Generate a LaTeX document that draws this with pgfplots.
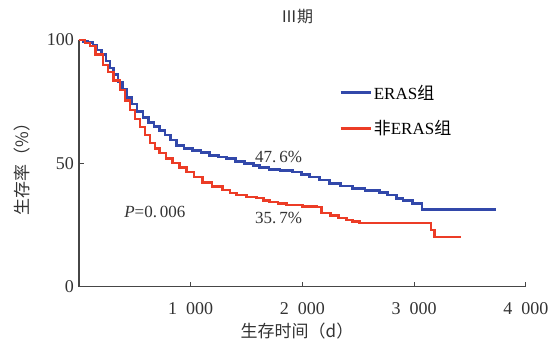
\documentclass[border=0pt]{standalone}
\usepackage{pgfplots}
\pgfplotsset{compat=1.18}
\usepackage{fontspec}
\setmainfont{Liberation Serif}
\newfontfamily\cjk{Noto Sans CJK SC}
\definecolor{erasblue}{RGB}{50,72,170}
\definecolor{erasred}{RGB}{236,60,38}
\definecolor{axgray}{RGB}{70,70,70}

\begin{document}
\begin{tikzpicture}
\useasboundingbox (0pt,0pt) rectangle (555pt,344pt);
\begin{axis}[
  at={(79pt,57.4pt)}, anchor=south west,
  scale only axis, width=447pt, height=246.6pt,
  xmin=0, xmax=4000, ymin=0, ymax=100,
  axis lines=left,
  axis line style={-, line width=1.2pt, color=axgray},
  tick style={line width=1pt, color=axgray},
  tick align=inside, major tick length=5pt,
  xtick={1000,2000,3000,4000},
  xticklabels={1\enspace000,2\enspace000,3\enspace000,4\enspace000},
  ytick={0,50,100},
  /pgf/number format/assume math mode=true,
  ticklabel style={font=\fontsize{18}{20}\selectfont, text=black!80, inner sep=2pt},
  xticklabel style={yshift=-14pt},
  yticklabel style={xshift=-3pt},
  legend style={draw=none, fill=none, at={(axis cs:2300,83.5)}, anchor=north west,
    font=\fontsize{17}{19}\selectfont, row sep=16pt},
  legend cell align=left,
  legend image code/.code={\draw[#1, line width=2.6pt] (0pt,0pt) -- (30pt,0pt);},
]
\addplot[const plot, color=erasblue, line width=2.6pt] coordinates {
(0,100) (40,99.5) (80,99) (125,98) (160,96) (200,94) (240,91.5) (277,88.7)
(310,86) (350,83) (390,80) (429,76.6) (470,74) (520,71) (571,68.5) (620,66.5)
(670,65) (723,63.3) (770,61.5) (820,59.5) (875,57.3) (940,56) (1018,55.2)
(1090,54.3) (1170,53.2) (1250,52.6) (1321,52.0) (1400,50.8) (1480,49.8)
(1560,49.0) (1616,48.4) (1700,47.6) (1800,47.0) (1911,46.4) (1990,45.4)
(2063,44.4) (2150,43.2) (2241,41.8) (2340,40.8) (2446,39.8) (2560,39.0)
(2688,38.2) (2760,37.2) (2839,35.7) (2900,34.8) (2982,33.7) (3071,31.3) (3732,31.3)
};
\addlegendentry{ERAS{\cjk 组}}
\addplot[const plot, color=erasred, line width=2.6pt] coordinates {
(0,100) (54,98.8) (98,97.5) (150,94) (214,89.8) (260,87) (310,83.5) (366,79.8)
(410,75.5) (455,71.6) (500,68) (545,64.7) (590,61.5) (634,58.2) (680,56)
(723,54.2) (780,52) (839,50.1) (900,48.2) (964,46.5) (1030,44.5) (1107,42.3)
(1190,40.6) (1286,39.1) (1350,38.0) (1411,37.1) (1500,36.4) (1589,35.9)
(1650,35.0) (1705,34.3) (1780,33.7) (1857,33.1) (2000,32.6) (2125,32.3)
(2170,29.8) (2250,28.8) (2320,27.8) (2393,27.0) (2450,26.3) (2509,25.8)
(3134,25.8) (3150,23) (3179,20.1) (3420,20.1)
};
\addlegendentry{{\cjk 非}ERAS{\cjk 组}}
\node[font=\fontsize{17}{19}\selectfont, text=black!80] at (axis cs:1786,52.6) {47.\,6\%};
\node[font=\fontsize{17}{19}\selectfont, text=black!80] at (axis cs:1786,27.8) {35.\,7\%};
\node[font=\fontsize{17}{19}\selectfont, text=black!80] at (axis cs:679,30.2) {\textit{P}=0.\,006};
\end{axis}
\node[font=\fontsize{16}{18}\selectfont, text=black!80] at (297pt,327pt) {\cjk Ⅲ期};
\node[rotate=90, font=\fontsize{17}{19}\selectfont, text=black!80] at (22pt,179pt) {\cjk 生存率（\%）};
\node[font=\fontsize{17}{19}\selectfont, text=black!80] at (297pt,13pt) {\cjk 生存时间（d）};
\end{tikzpicture}
\end{document}
